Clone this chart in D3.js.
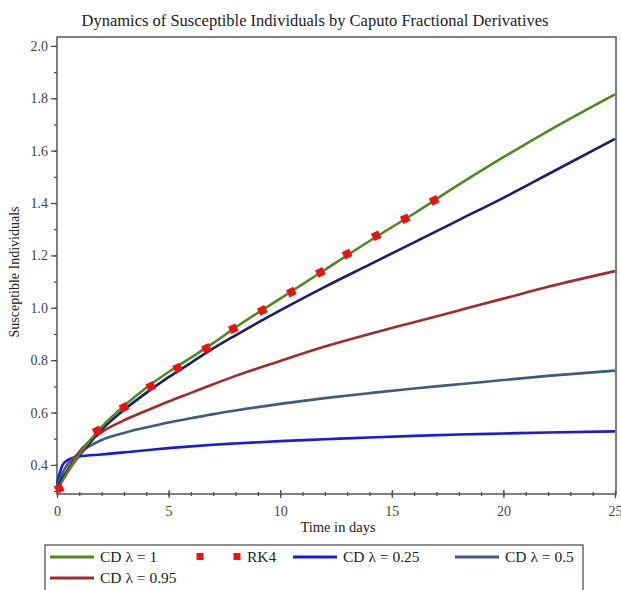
<!DOCTYPE html>
<html>
<head>
<meta charset="utf-8">
<script src="https://cdn.jsdelivr.net/npm/d3@7"></script>
<style>
  body { margin: 0; background: #fff; }
  svg text { font-family: "Liberation Serif", "Times New Roman", serif; }
</style>
</head>
<body>
<div id="chart"></div>
<script>
// time points shared by the curves
const times = [0, 0.25, 0.5, 1, 2, 3, 4, 5, 6, 7, 8, 10, 12, 14, 16, 18, 20, 22, 25];

const cdOne   = [0.30, 0.34, 0.375, 0.44, 0.545, 0.625, 0.695, 0.755, 0.81, 0.865, 0.925, 1.035, 1.145, 1.255, 1.36, 1.47, 1.575, 1.675, 1.815];
const cdNavy  = [0.31, 0.35, 0.38, 0.435, 0.535, 0.61, 0.675, 0.735, 0.79, 0.845, 0.895, 0.99, 1.08, 1.165, 1.25, 1.335, 1.42, 1.51, 1.645];
const cd095   = [0.31, 0.35, 0.385, 0.45, 0.525, 0.57, 0.607, 0.642, 0.675, 0.708, 0.74, 0.797, 0.852, 0.90, 0.945, 0.99, 1.035, 1.08, 1.14];
const cd05    = [0.32, 0.37, 0.405, 0.445, 0.495, 0.522, 0.543, 0.562, 0.578, 0.594, 0.608, 0.633, 0.655, 0.674, 0.692, 0.708, 0.724, 0.74, 0.76];
const cd025   = [0.33, 0.40, 0.42, 0.432, 0.44, 0.448, 0.456, 0.464, 0.471, 0.477, 0.482, 0.491, 0.498, 0.505, 0.511, 0.516, 0.52, 0.524, 0.528];

// RK4 points (red squares)
const rk4Times  = [0.1, 1.8, 3.0, 4.2, 5.4, 6.7, 7.9, 9.2, 10.5, 11.8, 13.0, 14.3, 15.6, 16.9];
const rk4Values = [0.31, 0.53, 0.62, 0.70, 0.77, 0.845, 0.92, 0.99, 1.06, 1.135, 1.205, 1.275, 1.34, 1.41];

const xTicks = [0, 5, 10, 15, 20, 25];
const yTicks = [0.4, 0.6, 0.8, 1.0, 1.2, 1.4, 1.6, 1.8, 2.0];

const series = [
    { name: "CD λ = 1",    values: cdOne,  color: "#4f8a1c" },
    { name: "",            values: cdNavy, color: "#1c1c78" },
    { name: "CD λ = 0.95", values: cd095,  color: "#a52a2a" },
    { name: "CD λ = 0.5",  values: cd05,   color: "#3d5b86" },
    { name: "CD λ = 0.25", values: cd025,  color: "#1a1ae6" }
];

let W = 621, H = 590;
let margin = { top: 37, right: 5, bottom: 96, left: 57 };
let width = W - margin.left - margin.right;
let height = H - margin.top - margin.bottom;

let svg = d3.select("#chart").append("svg")
    .attr("width", W)
    .attr("height", H);

let g = svg.append("g")
    .attr("transform", "translate(" + margin.left + "," + margin.top + ")");

let x = d3.scaleLinear().domain([0, 25]).range([0, 558]);
let y = d3.scaleLinear().domain([0.289, 2.034]).range([height, 0]);

// minor ticks
let xAxis = g.append("g")
    .attr("transform", "translate(0," + height + ")")
    .call(d3.axisBottom(x).tickValues(d3.range(0, 26, 1)).tickSize(3).tickFormat(""));
xAxis.selectAll("line").attr("y1", -2).attr("y2", 2);
let xMajor = g.append("g")
    .attr("transform", "translate(0," + height + ")")
    .call(d3.axisBottom(x).tickValues(xTicks).tickSize(4).tickFormat(d3.format("d")));
xMajor.selectAll("line").attr("y1", -4);
xMajor.selectAll("text").attr("dy", "1.1em");

let yMinor = g.append("g")
    .call(d3.axisLeft(y).tickValues(d3.range(0.3, 2.05, 0.1)).tickSize(3).tickFormat(""));
let yMajor = g.append("g")
    .call(d3.axisLeft(y).tickValues(yTicks).tickSize(6).tickFormat(d3.format(".1f")));

[xAxis, xMajor, yMinor, yMajor].forEach(a => {
    a.select(".domain").remove();
    a.selectAll("line").attr("stroke", "#444").attr("stroke-width", 1.2);
    a.selectAll("text").attr("fill", "#444").style("font-size", "14px");
});

// frame
g.append("rect")
    .attr("x", 0).attr("y", 0)
    .attr("width", x(25) + 1).attr("height", height)
    .attr("fill", "none")
    .attr("stroke", "#555")
    .attr("stroke-width", 1.5);

let line = d3.line()
    .x((d, i) => x(times[i]))
    .y(d => y(d))
    .curve(d3.curveMonotoneX);

g.append("g").selectAll("path")
    .data(series.slice().reverse())
    .enter()
    .append("path")
    .attr("d", d => line(d.values))
    .attr("fill", "none")
    .attr("stroke", d => d.color)
    .attr("stroke-width", 2.6);

g.append("g").selectAll("rect")
    .data(rk4Times)
    .enter()
    .append("rect")
    .attr("x", -4).attr("y", -4)
    .attr("width", 8).attr("height", 8)
    .attr("fill", "#f01010")
    .attr("transform", (d, i) => "translate(" + x(d) + "," + y(rk4Values[i]) + ") rotate(-25)");

// titles
svg.append("text")
    .attr("x", 315).attr("y", 26)
    .attr("text-anchor", "middle")
    .style("font-size", "16.5px")
    .attr("fill", "#222")
    .text("Dynamics of Susceptible Individuals by Caputo Fractional Derivatives");

svg.append("text")
    .attr("x", 338).attr("y", 532)
    .attr("text-anchor", "middle")
    .style("font-size", "14.5px")
    .attr("fill", "#222")
    .text("Time in days");

svg.append("text")
    .attr("transform", "translate(19," + 272 + ") rotate(-90)")
    .attr("text-anchor", "middle")
    .style("font-size", "14px")
    .attr("fill", "#222")
    .text("Susceptible Individuals");

// legend
let legend = svg.append("g");
legend.append("rect")
    .attr("x", 45).attr("y", 545)
    .attr("width", 538).attr("height", 60)
    .attr("fill", "none")
    .attr("stroke", "#555")
    .attr("stroke-width", 1.3);

const legendItems = [
    { label: "CD λ = 1",    color: "#4f8a1c", x: 50,  y: 557, type: "line" },
    { label: "RK4",         color: "#f01010", x: 200, y: 557, type: "marker" },
    { label: "CD λ = 0.25", color: "#1a1ae6", x: 293, y: 557, type: "line" },
    { label: "CD λ = 0.5",  color: "#3d5b86", x: 455, y: 557, type: "line" },
    { label: "CD λ = 0.95", color: "#a52a2a", x: 50,  y: 578, type: "line" }
];

legendItems.forEach(d => {
    if (d.type === "line") {
        legend.append("line")
            .attr("x1", d.x).attr("x2", d.x + 44)
            .attr("y1", d.y).attr("y2", d.y)
            .attr("stroke", d.color).attr("stroke-width", 3);
        legend.append("text")
            .attr("x", d.x + 50).attr("y", d.y + 5)
            .style("font-size", "15.5px")
            .attr("fill", "#222")
            .text(d.label);
    } else {
        [d.x, d.x + 37].forEach(px => {
            legend.append("rect")
                .attr("x", px - 3.5).attr("y", d.y - 4)
                .attr("width", 7).attr("height", 7)
                .attr("fill", d.color);
        });
        legend.append("text")
            .attr("x", d.x + 47).attr("y", d.y + 5)
            .style("font-size", "15.5px")
            .attr("fill", "#222")
            .text(d.label);
    }
});
</script>
</body>
</html>
